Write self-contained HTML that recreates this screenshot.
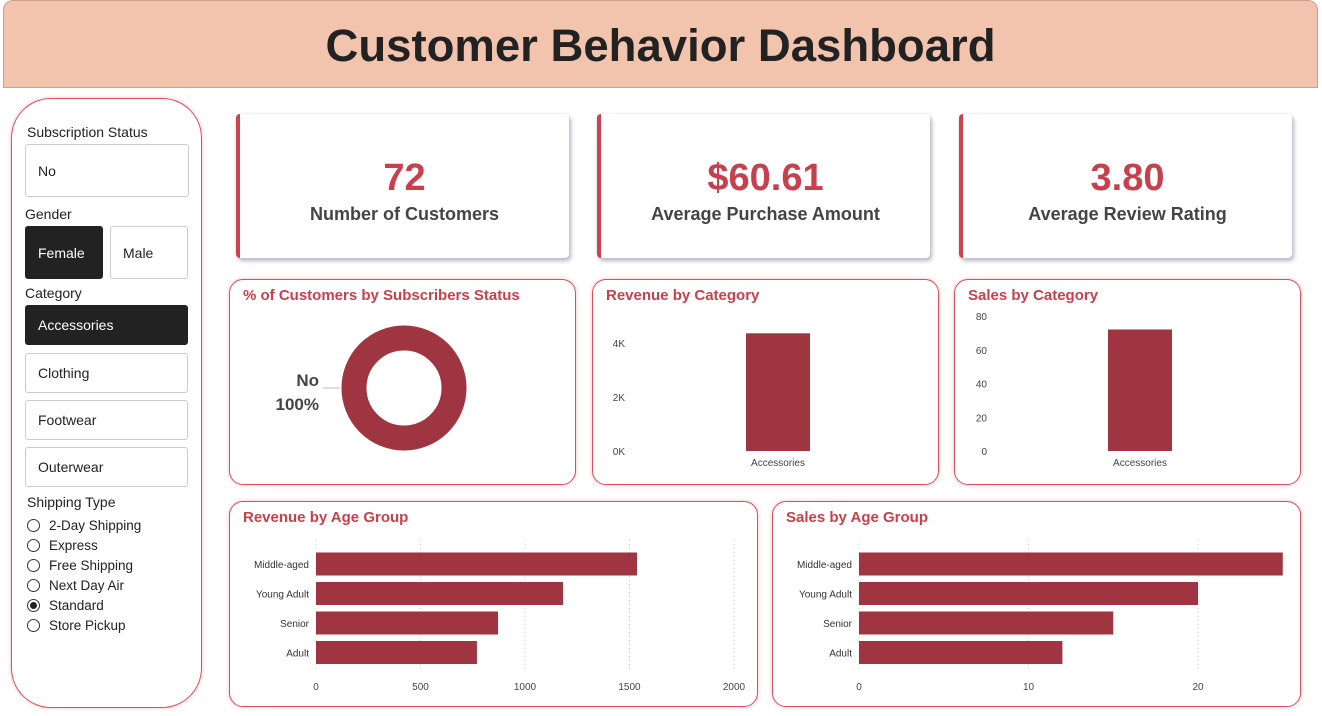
<!DOCTYPE html>
<html><head><meta charset="utf-8"><style>
*{box-sizing:border-box;margin:0;padding:0}
body{width:1322px;height:716px;background:#fff;position:relative;overflow:hidden;font-family:"Liberation Sans","DejaVu Sans",sans-serif;color:#333}
.abs{position:absolute}
.hdr{left:3px;top:0;width:1315px;height:88px;background:#f2c4ae;border:1px solid #c9a090;border-radius:10px 10px 0 0}
.hdr h1{text-align:center;font-size:45.5px;line-height:90px;color:#222;font-weight:bold}
.side{left:11px;top:98px;width:191px;height:610px;border:1px solid #d9505a;border-radius:40px;box-shadow:0 0 4px #f3c0c0}
.lbl{font-size:14px;color:#222}
.btn{border:1px solid #ccc;border-radius:3px;background:#fff;font-size:14px;color:#222;padding-left:12px;display:flex;align-items:center}
.btn.sel{background:#222;color:#fff;border-color:#222}
.radio{font-size:13.5px;color:#222;display:flex;align-items:center;height:20px}
.radio i{display:inline-block;width:13px;height:13px;border:1px solid #333;border-radius:50%;margin-right:9px;position:relative}
.radio i.on::after{content:"";position:absolute;left:2px;top:2px;width:7px;height:7px;border-radius:50%;background:#222}
.kpi{width:333px;height:144px;background:#fff;border-left:4px solid #d0404e;border-radius:4px;box-shadow:2px 3px 4px #b8b8c8,0 0 2px #ddd;text-align:center}
.kpi .v{font-size:38px;font-weight:bold;color:#c8404c;margin-top:42px;line-height:44px}
.kpi .t{font-size:18px;font-weight:bold;color:#444;margin-top:4px}
.card{background:#fff;border:1px solid #d9505a;border-radius:14px;box-shadow:0 0 5px #f5c4c4}
.ct{position:absolute;left:13px;top:7px;font-size:15px;font-weight:bold;color:#c8404c}
svg text{font-family:"Liberation Sans",sans-serif}
</style></head><body>
<div class="abs hdr"><h1>Customer Behavior Dashboard</h1></div>

<div class="abs side"></div>
<div class="abs lbl" style="left:27px;top:124px">Subscription Status</div>
<div class="abs btn" style="left:25px;top:144px;width:164px;height:53px">No</div>
<div class="abs lbl" style="left:25px;top:206px">Gender</div>
<div class="abs btn sel" style="left:25px;top:226px;width:78px;height:53px">Female</div>
<div class="abs btn" style="left:110px;top:226px;width:78px;height:53px">Male</div>
<div class="abs lbl" style="left:25px;top:285px">Category</div>
<div class="abs btn sel" style="left:25px;top:305px;width:163px;height:40px">Accessories</div>
<div class="abs btn" style="left:25px;top:353px;width:163px;height:40px">Clothing</div>
<div class="abs btn" style="left:25px;top:400px;width:163px;height:40px">Footwear</div>
<div class="abs btn" style="left:25px;top:447px;width:163px;height:40px">Outerwear</div>
<div class="abs lbl" style="left:27px;top:494px">Shipping Type</div>
<div class="abs" style="left:27px;top:515px">
<div class="radio"><i></i>2-Day Shipping</div>
<div class="radio"><i></i>Express</div>
<div class="radio"><i></i>Free Shipping</div>
<div class="radio"><i></i>Next Day Air</div>
<div class="radio"><i class="on"></i>Standard</div>
<div class="radio"><i></i>Store Pickup</div>
</div>

<div class="abs kpi" style="left:236px;top:114px"><div class="v">72</div><div class="t">Number of Customers</div></div>
<div class="abs kpi" style="left:597px;top:114px"><div class="v">$60.61</div><div class="t">Average Purchase Amount</div></div>
<div class="abs kpi" style="left:959px;top:114px"><div class="v">3.80</div><div class="t">Average Review Rating</div></div>

<div class="abs card" style="left:229px;top:279px;width:347px;height:206px">
<div class="ct">% of Customers by Subscribers Status</div>
<svg class="abs" style="left:0;top:0" width="347" height="206">
<circle cx="174" cy="108" r="50" fill="none" stroke="#9e3540" stroke-width="25"/>
<line x1="93" y1="108" x2="110" y2="108" stroke="#bbb"/>
<text x="89" y="106" text-anchor="end" font-size="17" font-weight="bold" fill="#444">No</text>
<text x="89" y="130" text-anchor="end" font-size="17" font-weight="bold" fill="#444">100%</text>
</svg></div>

<div class="abs card" style="left:592px;top:279px;width:347px;height:206px">
<div class="ct">Revenue by Category</div>
<svg id="rc" class="abs" style="left:0;top:0" width="347" height="206"></svg></div>

<div class="abs card" style="left:954px;top:279px;width:347px;height:206px">
<div class="ct">Sales by Category</div>
<svg id="sc" class="abs" style="left:0;top:0" width="347" height="206"></svg></div>

<div class="abs card" style="left:229px;top:501px;width:529px;height:206px">
<div class="ct">Revenue by Age Group</div>
<svg id="ra" class="abs" style="left:0;top:0" width="529" height="206"></svg></div>

<div class="abs card" style="left:772px;top:501px;width:529px;height:206px">
<div class="ct">Sales by Age Group</div>
<svg id="sa" class="abs" style="left:0;top:0" width="529" height="206"></svg></div>

<script>
const catNames=["Accessories"];
const catRevenue=[4359];
const catSales=[72];
const revTicks=[0,2000,4000];
const revTickLabels=["0K","2K","4K"];
const salesTicks=[0,20,40,60,80];
const ageGroups=["Middle-aged","Young Adult","Senior","Adult"];
const ageRevenue=[1536,1182,871,770];
const ageSales=[25,20,15,12];
const ageRevTicks=[0,500,1000,1500,2000];
const ageSalesTicks=[0,10,20];
const NS="http://www.w3.org/2000/svg";
function mk(svg,tag,attrs,txt){const e=document.createElementNS(NS,tag);for(const k in attrs)e.setAttribute(k,attrs[k]);if(txt!=null)e.textContent=txt;svg.appendChild(e);return e;}
function vchart(id,vals,ticks,labels,max,y0,y1,x0,x1,name){
  const s=document.getElementById(id);
  const y=v=>y0-(v/max)*(y0-y1);
  ticks.forEach((t,i)=>{const e=mk(s,'text',{x:x0-8,y:y(t)+4,'text-anchor':'end','font-size':10,fill:'#444'},labels[i]);
    
    });
  const bw=(x1-x0)/vals.length;
  vals.forEach((v,i)=>{const cx=x0+bw*(i+0.5);
    const r=mk(s,'rect',{x:cx-32,y:y(v),width:64,height:y(0)-y(v),fill:'#9e3540'});
    
    
    const t=mk(s,'text',{x:cx,y:y0+15,'text-anchor':'middle','font-size':10,fill:'#444'},catNames[i]);
    
    });
}
vchart('rc',catRevenue,revTicks,revTickLabels,4000,171,63,40,330,'revenue-category');
vchart('sc',catSales,salesTicks,salesTicks.map(String),80,171,36,40,330,'sales-category');
function hchart(id,vals,ticks,max,x0,x1,name){
  const s=document.getElementById(id);
  const x=v=>x0+(v/max)*(x1-x0);
  ticks.forEach(t=>{mk(s,'line',{x1:x(t),x2:x(t),y1:38,y2:170,stroke:'#ccc','stroke-dasharray':'1,3'});
    const e=mk(s,'text',{x:x(t),y:188,'text-anchor':'middle','font-size':10,fill:'#444'},t);
    
    });
  vals.forEach((v,i)=>{const cy=62+i*29.5;
    const r=mk(s,'rect',{x:x0,y:cy-11.5,width:x(v)-x0,height:23,fill:'#9e3540'});
    
    
    const t=mk(s,'text',{x:x0-7,y:cy+4,'text-anchor':'end','font-size':10,fill:'#333'},ageGroups[i]);
    
    });
}
hchart('ra',ageRevenue,ageRevTicks,2000,86,504,'revenue-age');
hchart('sa',ageSales,ageSalesTicks,20,86,425,'sales-age');
</script>
</body></html>
